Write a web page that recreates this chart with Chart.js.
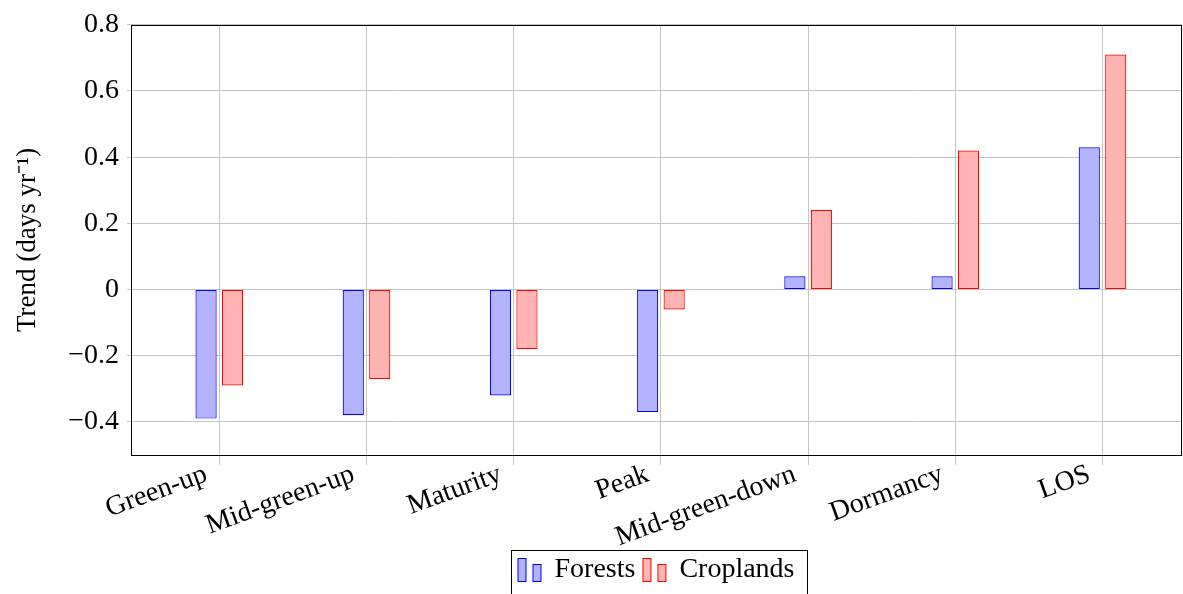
<!DOCTYPE html>
<html>
<head>
<meta charset="utf-8">
<script src="https://cdn.jsdelivr.net/npm/chart.js@4.4.1/dist/chart.umd.min.js"></script>
<style>
  html, body { margin: 0; padding: 0; background: #fff; }
  #wrap { width: 1183px; height: 594px; position: relative; }
</style>
</head>
<body>
<div id="wrap"><canvas id="chart" width="1183" height="594"></canvas></div>
<script>
const categories = ["Green-up", "Mid-green-up", "Maturity", "Peak", "Mid-green-down", "Dormancy", "LOS"];
const forests   = [-0.39, -0.38, -0.32, -0.37, 0.04, 0.04, 0.43];
const croplands = [-0.29, -0.27, -0.18, -0.06, 0.24, 0.42, 0.71];
const yTicks = [-0.4, -0.2, 0, 0.2, 0.4, 0.6, 0.8];

const FONT = "'Liberation Serif', 'Times New Roman', serif";
const LEGEND_PAD = 8;

function fmt(v){
  if(Math.abs(v) < 1e-9) return "0";
  const s = Math.abs(v).toFixed(1);
  return v < 0 ? "\u2212" + s : s;
}

// legend icon: two small bars like pgfplots ybar legend
function icon(fill, stroke){
  const c = document.createElement("canvas");
  c.width = 26; c.height = 24;
  const g = c.getContext("2d");
  g.fillStyle = fill; g.strokeStyle = stroke; g.lineWidth = 1;
  g.fillRect(1.5, 0.5, 8, 23); g.strokeRect(1.5, 0.5, 8, 23);
  g.fillRect(16.5, 6.5, 8, 17); g.strokeRect(16.5, 6.5, 8, 17);
  return c;
}

const frame = {
  id: "frame",
  beforeDraw(chart){
    // centre the legend under the plot area, as pgfplots does
    const lg = chart.legend, a = chart.chartArea;
    lg.left = a.left; lg.right = a.right;
  },
  afterDraw(chart){
    const {ctx, chartArea: a} = chart;
    ctx.save();
    ctx.strokeStyle = "#000";
    ctx.lineWidth = 1;
    ctx.strokeRect(Math.round(a.left) + 0.5, Math.round(a.top) + 0.5,
                   Math.round(a.right - a.left) - 1, Math.round(a.bottom - a.top));
    const lg = chart.legend;
    const lw = lg.lineWidths[0];
    const start = (lg.left + LEGEND_PAD + lg.right - lw) / 2;
    const l = start - 8;
    const r = start + lw - LEGEND_PAD + 12;
    const t = lg.top + LEGEND_PAD - 6;
    ctx.strokeRect(Math.round(l) + 0.5, Math.round(t) + 0.5, Math.round(r - l), chart.height);
    ctx.restore();
  }
};

const ctx = document.getElementById("chart");
new Chart(ctx, {
  type: "bar",
  data: {
    datasets: [
      {
        label: "Forests",
        data: forests.map((v, i) => ({x: i, y: v})),
        backgroundColor: "rgb(179,179,255)",
        borderColor: "#0000ff",
        borderWidth: 1.2,
        borderSkipped: false,
        barPercentage: 0.8,
        categoryPercentage: 0.36,
        pointStyle: icon("rgb(179,179,255)", "#0000ff")
      },
      {
        label: "Croplands",
        data: croplands.map((v, i) => ({x: i, y: v})),
        backgroundColor: "rgb(255,179,179)",
        borderColor: "#ff0000",
        borderWidth: 1.2,
        borderSkipped: false,
        barPercentage: 0.8,
        categoryPercentage: 0.36,
        pointStyle: icon("rgb(255,179,179)", "#ff0000")
      }
    ]
  },
  options: {
    responsive: false,
    animation: false,
    layout: {padding: {top: 18, right: 1, left: 0, bottom: 0}},
    plugins: {
      legend: {
        position: "bottom",
        labels: {
          usePointStyle: true,
          pointStyleWidth: 22,
          boxWidth: 22,
          boxHeight: 24,
          padding: LEGEND_PAD,
          color: "#000",
          font: {family: FONT, size: 28}
        }
      },
      tooltip: {enabled: false}
    },
    scales: {
      x: {
        type: "linear",
        min: -0.6,
        max: 6.54,
        offset: false,
        afterBuildTicks: (s) => { s.ticks = categories.map((c, i) => ({value: i})); },
        afterFit: (s) => { s.height = 93; },
        border: {display: false},
        grid: {color: "#c4c4c4", lineWidth: 1, tickLength: 10, offset: false},
        ticks: {
          autoSkip: false,
          minRotation: 20,
          maxRotation: 20,
          padding: -12,
          color: "#000",
          font: {family: FONT, size: 28},
          callback: (v) => categories[v] !== undefined ? categories[v] + "  " : ""
        }
      },
      y: {
        min: -0.5,
        max: 0.8,
        afterBuildTicks: (s) => { s.ticks = yTicks.map(v => ({value: v})); },
        afterFit: (s) => { s.width = 131; },
        border: {display: false},
        grid: {color: "#c4c4c4", lineWidth: 1, tickLength: 4},
        ticks: {
          padding: 8,
          color: "#000",
          font: {family: FONT, size: 28},
          callback: (v) => fmt(v)
        },
        title: {
          display: true,
          text: "Trend (days yr\u207B\u00B9)",
          color: "#000",
          font: {family: FONT, size: 27},
          padding: {top: 12, bottom: 0}
        }
      }
    }
  },
  plugins: [frame]
});
</script>
</body>
</html>
